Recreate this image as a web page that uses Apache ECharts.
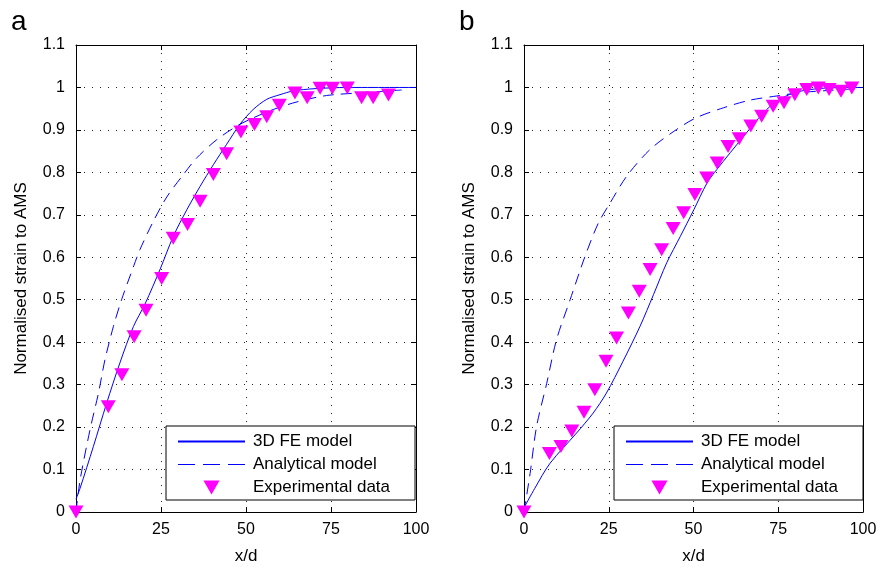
<!DOCTYPE html>
<html><head><meta charset="utf-8">
<script src="https://cdn.jsdelivr.net/npm/echarts@6/dist/echarts.min.js"></script>
<style>html,body{margin:0;padding:0;background:#fff}#c{width:881px;height:570px}</style>
</head><body><div id="c"></div>
<script>
// ---- data ----
const xTicks = [0, 25, 50, 75, 100];
const yTicks = [0, 0.1, 0.2, 0.3, 0.4, 0.5, 0.6, 0.7, 0.8, 0.9, 1, 1.1];
const panelLabels = ['a', 'b'];
const seriesNames = ['3D FE model', 'Analytical model', 'Experimental data'];
const xName = 'x/d';
const yName = 'Normalised strain to AMS';

// panel a
const aFeX = [0, 1.2, 5.1, 9, 12.9, 16.9, 20.3, 24.7, 28.6, 32.6, 36.5, 40.4, 44.3, 48.2, 52.1, 56.1, 60, 64, 70, 80, 100];
const aFeY = [0.03, 0.056, 0.154, 0.256, 0.351, 0.437, 0.49, 0.571, 0.649, 0.712, 0.767, 0.818, 0.866, 0.913, 0.948, 0.972, 0.983, 0.992, 0.997, 1.0, 1.0];
const aAnX = [0, 1.2, 4.1, 6.6, 8.5, 11, 13.4, 17, 18.8, 22.7, 26.7, 31.6, 35.5, 41.4, 47.3, 51.2, 58, 65, 73.7, 85, 95.8];
const aAnY = [0, 0.075, 0.193, 0.28, 0.358, 0.437, 0.5, 0.58, 0.618, 0.684, 0.742, 0.795, 0.834, 0.877, 0.909, 0.925, 0.948, 0.966, 0.981, 0.988, 0.994];
const aExX = [0, 9.5, 13.5, 17.1, 20.6, 25.2, 28.6, 32.8, 36.5, 40.4, 44.3, 48.5, 52.5, 56.1, 59.8, 64.4, 68.0, 71.8, 75.4, 79.8, 84.0, 87.4, 91.9];
const aExY = [0, 0.248, 0.323, 0.413, 0.475, 0.550, 0.645, 0.677, 0.732, 0.795, 0.844, 0.895, 0.913, 0.931, 0.958, 0.987, 0.976, 0.998, 0.998, 0.999, 0.976, 0.976, 0.982];

// panel b
const bFeX = [0, 3.2, 7.7, 15.5, 20.4, 24.3, 29.2, 34.2, 38.2, 42.1, 46.1, 50.1, 54, 56.9, 64.8, 70.6, 74.6, 79.5, 84.4, 90, 100];
const bFeY = [0.01, 0.056, 0.115, 0.186, 0.233, 0.28, 0.355, 0.437, 0.512, 0.587, 0.649, 0.712, 0.775, 0.807, 0.885, 0.94, 0.968, 0.987, 0.995, 0.999, 1.0];
const bAnX = [0, 1.8, 3.7, 6.7, 9.6, 13.6, 18, 21.9, 25.4, 30.3, 37.2, 45, 50.9, 58.8, 66.6, 74.6, 81.6, 90, 96];
const bAnY = [0, 0.091, 0.201, 0.303, 0.406, 0.5, 0.602, 0.68, 0.728, 0.791, 0.854, 0.901, 0.929, 0.952, 0.97, 0.98, 0.988, 0.993, 0.996];
const bExX = [0, 7.5, 10.9, 14.1, 17.7, 20.9, 24.2, 27.3, 30.8, 34.0, 37.2, 40.6, 44.0, 47.1, 50.4, 53.9, 57.0, 60.2, 63.5, 66.9, 70.1, 73.5, 76.7, 79.9, 83.4, 86.8, 90.0, 93.5, 96.7];
const bExY = [0, 0.138, 0.154, 0.191, 0.235, 0.288, 0.355, 0.410, 0.469, 0.520, 0.571, 0.618, 0.668, 0.705, 0.748, 0.787, 0.822, 0.861, 0.879, 0.909, 0.932, 0.956, 0.964, 0.983, 0.995, 0.999, 0.995, 0.991, 0.999];

const panels = [
  {fe: [aFeX, aFeY], an: [aAnX, aAnY], ex: [aExX, aExY]},
  {fe: [bFeX, bFeY], an: [bAnX, bAnY], ex: [bExX, bExY]}
];

// ---- chart ----
const FONT = '"Liberation Sans", Arial, Helvetica, sans-serif';
const TRI_DOWN = 'path://M0,0L15,0L7.5,13Z';
const pairs = (xs, ys) => xs.map((x, i) => [x, ys[i]]);
const xMin = xTicks[0], xMax = xTicks[xTicks.length - 1], xInt = xTicks[1] - xTicks[0];
const yMin = yTicks[0], yMax = yTicks[yTicks.length - 1], yInt = +(yTicks[1] - yTicks[0]).toFixed(3);
const gridPos = [{left: 76, right: 465, top: 45, bottom: 58}, {left: 524, right: 18, top: 45, bottom: 58}];
const legendPos = [{left: 166, top: 426}, {left: 614, top: 426}];
const labelPos = [{x: 11, y: 8}, {x: 459, y: 8}];

const axisLine = {show: true, onZero: false, lineStyle: {color: '#000', width: 1}};
const tick = {show: true, inside: true, length: 5, lineStyle: {color: '#000', width: 1}};
const split = {show: true, lineStyle: {color: '#222', width: 1, type: [1, 7]}};

const xAxis = [], yAxis = [], series = [], legend = [], graphic = [];
panels.forEach((p, i) => {
  xAxis.push({type: 'value', gridIndex: i, position: 'bottom', min: xMin, max: xMax, interval: xInt,
    name: xName, nameLocation: 'middle', nameGap: 36,
    nameTextStyle: {fontSize: 17, color: '#000', fontFamily: FONT},
    axisLine, axisTick: tick, splitLine: split,
    axisLabel: {fontSize: 16, color: '#000', fontFamily: FONT, margin: 10}});
  xAxis.push({type: 'value', gridIndex: i, position: 'top', min: xMin, max: xMax, interval: xInt,
    axisLine, axisTick: tick, splitLine: {show: false}, axisLabel: {show: false}});
  yAxis.push({type: 'value', gridIndex: i, position: 'left', min: yMin, max: yMax, interval: yInt,
    name: yName, nameLocation: 'middle', nameGap: 46,
    nameTextStyle: {fontSize: 17, color: '#000', fontFamily: FONT},
    axisLine, axisTick: tick, splitLine: split,
    axisLabel: {fontSize: 16, color: '#000', fontFamily: FONT, margin: 11,
      formatter: v => String(Math.round(v * 10) / 10)}});
  yAxis.push({type: 'value', gridIndex: i, position: 'right', min: yMin, max: yMax, interval: yInt,
    axisLine, axisTick: tick, splitLine: {show: false}, axisLabel: {show: false}});

  series.push({name: seriesNames[0], type: 'line', xAxisIndex: 2 * i, yAxisIndex: 2 * i,
    data: pairs(p.fe[0], p.fe[1]), symbol: 'none', showSymbol: false, smooth: 0.3,
    lineStyle: {color: '#0000ff', width: 1}, itemStyle: {color: '#0000ff'}, z: 2});
  series.push({name: seriesNames[1], type: 'line', xAxisIndex: 2 * i, yAxisIndex: 2 * i,
    data: pairs(p.an[0], p.an[1]), symbol: 'none', showSymbol: false, smooth: 0.3,
    lineStyle: {color: '#0000ff', width: 1, type: [11, 7]}, itemStyle: {color: '#0000ff'}, z: 2});
  series.push({name: seriesNames[2], type: 'scatter', xAxisIndex: 2 * i, yAxisIndex: 2 * i,
    data: pairs(p.ex[0], p.ex[1]), symbol: TRI_DOWN, symbolSize: [15, 13],
    itemStyle: {color: '#ff00ff', opacity: 1}, clip: false, z: 3});

  legend.push(Object.assign({orient: 'vertical',
    data: [
      {name: seriesNames[0], itemStyle: {opacity: 0, color: 'rgba(0,0,0,0)', borderWidth: 0}},
      {name: seriesNames[1], itemStyle: {opacity: 0, color: 'rgba(0,0,0,0)', borderWidth: 0},
        lineStyle: {color: '#0000ff', width: 1, type: [17, 8]}},
      {name: seriesNames[2], icon: TRI_DOWN}
    ],
    itemWidth: 67, itemHeight: 14, itemGap: 6, padding: [7, 25, 4, 11],
    symbolKeepAspect: true, symbolRotate: 0,
    backgroundColor: '#fff', borderColor: '#000', borderWidth: 1, borderRadius: 0,
    selectedMode: false, z: 10,
    textStyle: {fontSize: 17, color: '#000', fontFamily: FONT, padding: [0, 0, 0, 3]}}, legendPos[i]));

  graphic.push({type: 'text', left: labelPos[i].x, top: labelPos[i].y,
    style: {text: panelLabels[i], font: '28px ' + FONT, fill: '#000'}});
});

const chart = echarts.init(document.getElementById('c'), null, {renderer: 'canvas'});
chart.setOption({
  animation: false,
  backgroundColor: '#fff',
  grid: gridPos,
  xAxis, yAxis, series, legend, graphic
});
</script>
</body></html>
